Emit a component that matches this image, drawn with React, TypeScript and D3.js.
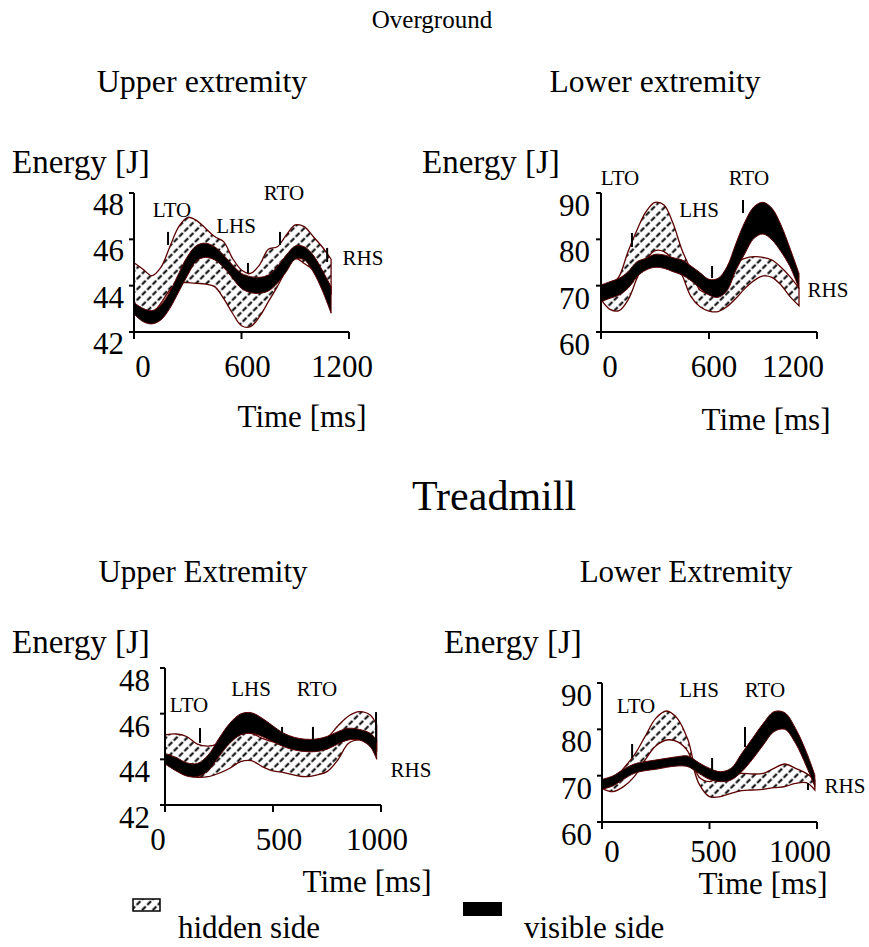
import React from 'react';
import * as d3 from 'd3';

const FONT = 'Liberation Serif, DejaVu Serif, serif';

// ---------- DATA ----------
// Overground, upper extremity
const TIME_OG = [0, 50, 100, 150, 200, 250, 300, 350, 400, 450, 500, 550, 600, 650, 700, 750, 800, 850, 900, 950, 1000, 1050, 1100];
const OG_UP_HID_HI = [44.99, 44.71, 44.43, 44.79, 45.68, 46.55, 46.95, 46.81, 46.47, 46.12, 45.9, 45.18, 44.68, 44.53, 44.89, 45.57, 45.68, 46.19, 46.62, 46.55, 46.12, 45.68, 45.14];
const OG_UP_HID_LO = [42.88, 42.66, 42.81, 43.24, 43.81, 44.1, 44.13, 44.1, 44.07, 43.96, 43.45, 42.81, 42.27, 42.23, 42.66, 43.31, 43.96, 44.68, 45.18, 44.96, 44.68, 44.24, 43.67];
const OG_UP_VIS_HI = [43.27, 43.02, 42.92, 43.17, 43.74, 44.53, 45.28, 45.74, 45.83, 45.68, 45.32, 44.89, 44.53, 44.39, 44.36, 44.46, 44.82, 45.32, 45.71, 45.68, 45.32, 44.68, 43.96];
const OG_UP_VIS_LO = [42.78, 42.45, 42.35, 42.52, 43.02, 43.74, 44.46, 45.08, 45.22, 45.11, 44.79, 44.32, 43.88, 43.7, 43.67, 43.77, 44.1, 44.6, 45.14, 45.11, 44.6, 43.81, 42.81];
// Overground, lower extremity
const OG_LO_HID_HI = [68.71, 69.78, 71.94, 77.34, 82.01, 85.97, 87.99, 87.41, 83.45, 77.7, 73.38, 69.06, 68.35, 68.35, 69.78, 74.82, 75.9, 76.26, 76.12, 75.54, 73.96, 71.94, 69.42];
const OG_LO_HID_LO = [67.05, 64.89, 64.6, 66.91, 71.58, 75.54, 77.55, 77.34, 75.54, 72.3, 67.63, 65.47, 64.53, 64.39, 65.47, 67.27, 69.42, 71.08, 72.09, 71.8, 70.14, 67.63, 65.68];
const OG_LO_VIS_HI = [70.14, 70.86, 71.58, 73.02, 75.18, 75.9, 76.76, 76.62, 76.04, 75.54, 74.24, 72.81, 71.37, 71.58, 74.1, 79.14, 83.81, 87.05, 87.99, 86.69, 83.09, 78.06, 72.66];
const OG_LO_VIS_LO = [66.55, 67.27, 67.99, 69.42, 71.94, 73.38, 73.96, 73.74, 73.02, 72.3, 71.08, 69.42, 67.99, 67.48, 68.92, 73.38, 76.98, 80.22, 81.15, 79.86, 77.34, 74.1, 69.42];
// Treadmill, upper extremity
const TIME_TM_UP = [0, 50, 100, 150, 200, 250, 300, 350, 400, 450, 500, 550, 600, 650, 700, 750, 800, 850, 900, 950, 980];
const TM_UP_HID_HI = [45.07, 45.11, 45.0, 44.67, 44.58, 44.7, 45.0, 45.21, 45.14, 44.92, 44.77, 44.7, 44.63, 44.67, 44.85, 44.96, 45.46, 45.9, 46.09, 45.94, 45.5];
const TM_UP_HID_LO = [43.9, 43.53, 43.31, 43.21, 43.24, 43.39, 43.61, 43.9, 43.94, 43.68, 43.49, 43.42, 43.31, 43.24, 43.31, 43.46, 43.97, 44.7, 44.85, 44.7, 44.41];
const TM_UP_VIS_HI = [44.26, 44.09, 43.85, 43.82, 44.19, 44.92, 45.58, 45.99, 46.04, 45.8, 45.46, 45.14, 44.96, 44.88, 44.89, 45.0, 45.21, 45.36, 45.31, 45.14, 44.85];
const TM_UP_VIS_LO = [43.8, 43.5, 43.27, 43.24, 43.5, 44.12, 44.7, 45.07, 45.14, 45.0, 44.77, 44.55, 44.41, 44.34, 44.34, 44.44, 44.67, 44.85, 44.85, 44.55, 44.0];
// Treadmill, lower extremity
const TIME_TM_LO = [0, 50, 100, 150, 200, 250, 300, 350, 400, 450, 500, 550, 600, 650, 700, 750, 800, 850, 900, 950, 990];
const TM_LO_HID_HI = [68.35, 69.06, 71.58, 74.46, 78.42, 82.37, 83.96, 82.37, 77.7, 69.78, 68.71, 69.78, 70.14, 70.5, 70.36, 70.5, 71.58, 72.52, 71.58, 70.5, 69.06];
const TM_LO_HID_LO = [67.27, 66.55, 67.63, 69.78, 73.38, 76.4, 77.7, 77.34, 75.18, 68.35, 65.47, 65.47, 66.19, 66.76, 66.91, 67.05, 67.41, 67.63, 68.35, 68.49, 66.91];
const TM_LO_VIS_HI = [69.21, 69.93, 71.37, 72.52, 73.02, 73.38, 73.74, 74.1, 74.24, 72.81, 71.58, 70.86, 71.58, 74.82, 78.06, 81.29, 83.81, 83.6, 80.22, 75.18, 70.14];
const TM_LO_VIS_LO = [67.05, 67.77, 69.21, 70.5, 71.08, 71.37, 71.8, 72.09, 71.94, 70.5, 69.21, 68.71, 69.06, 70.86, 73.53, 76.62, 79.5, 80.0, 76.98, 72.09, 67.63];

// Gait events
const EVENT_NAMES = ['LTO', 'LHS', 'RTO', 'RHS'];
const OG_UP_EVENT_T = [190, 636, 815, 1078];
const OG_UP_EVENT_HI = [46.32, 44.98, 46.32, 45.63];
const OG_UP_EVENT_LO = [45.76, 44.55, 45.76, 45.02];
const OG_LO_EVENT_T = [172, 617, 789, 1100];
const OG_LO_EVENT_HI = [81.37, 74.25, 88.49, null];
const OG_LO_EVENT_LO = [78.35, 71.66, 85.69, null];
const TM_UP_EVENT_T = [162, 542, 685, 977];
const TM_UP_EVENT_HI = [45.37, 45.42, 45.42, 46.07];
const TM_UP_EVENT_LO = [44.72, 44.85, 44.85, 44.72];
const TM_LO_EVENT_T = [140, 512, 665, 958];
const TM_LO_EVENT_HI = [76.84, 73.81, 80.5, 68.42];
const TM_LO_EVENT_LO = [73.81, 70.79, 76.19, 66.91];

// Axis ticks
const OG_X_TICKS = [0, 600, 1200];
const TM_X_TICKS = [0, 500, 1000];
const UP_Y_TICKS = [42, 44, 46, 48];
const LO_Y_TICKS = [60, 70, 80, 90];

// ---------- LAYOUT ----------
type Panel = {
  key: string;
  x0: number; x1: number; yTop: number; yBot: number;
  xDomain: [number, number]; yDomain: [number, number];
  xTicks: number[]; yTicks: number[];
  xLabelDx: number[]; yLabelRight: number; yLabelDy: number; xLabelDy: number;
  time: number[]; hidHi: number[]; hidLo: number[]; visHi: number[]; visLo: number[];
  evT: number[]; evHi: (number | null)[]; evLo: (number | null)[];
  evLabel: [number, number][];
};

const PANELS: Panel[] = [
  {
    key: 'ogU', x0: 134, x1: 349, yTop: 193, yBot: 332, xDomain: [0, 1200], yDomain: [42, 48],
    xTicks: OG_X_TICKS, yTicks: UP_Y_TICKS, xLabelDx: [9, 6, -7], yLabelRight: 124, yLabelDy: 22, xLabelDy: 45,
    time: TIME_OG, hidHi: OG_UP_HID_HI, hidLo: OG_UP_HID_LO, visHi: OG_UP_VIS_HI, visLo: OG_UP_VIS_LO,
    evT: OG_UP_EVENT_T, evHi: OG_UP_EVENT_HI, evLo: OG_UP_EVENT_LO,
    evLabel: [[172, 217], [236, 233], [284, 200], [363, 265]],
  },
  {
    key: 'ogL', x0: 601, x1: 817, yTop: 193, yBot: 332, xDomain: [0, 1200], yDomain: [60, 90],
    xTicks: OG_X_TICKS, yTicks: LO_Y_TICKS, xLabelDx: [9, 5, -24], yLabelRight: 590, yLabelDy: 23, xLabelDy: 45,
    time: TIME_OG, hidHi: OG_LO_HID_HI, hidLo: OG_LO_HID_LO, visHi: OG_LO_VIS_HI, visLo: OG_LO_VIS_LO,
    evT: OG_LO_EVENT_T, evHi: OG_LO_EVENT_HI, evLo: OG_LO_EVENT_LO,
    evLabel: [[620, 185], [699, 217], [749, 185], [828, 297]],
  },
  {
    key: 'tmU', x0: 165, x1: 381, yTop: 668, yBot: 805, xDomain: [0, 1000], yDomain: [42, 48],
    xTicks: TM_X_TICKS, yTicks: UP_Y_TICKS, xLabelDx: [-7, 6, -4], yLabelRight: 150, yLabelDy: 23, xLabelDy: 45,
    time: TIME_TM_UP, hidHi: TM_UP_HID_HI, hidLo: TM_UP_HID_LO, visHi: TM_UP_VIS_HI, visLo: TM_UP_VIS_LO,
    evT: TM_UP_EVENT_T, evHi: TM_UP_EVENT_HI, evLo: TM_UP_EVENT_LO,
    evLabel: [[189, 712], [251, 696], [317, 696], [411, 777]],
  },
  {
    key: 'tmL', x0: 602, x1: 817, yTop: 683, yBot: 822, xDomain: [0, 1000], yDomain: [60, 90],
    xTicks: TM_X_TICKS, yTicks: LO_Y_TICKS, xLabelDx: [10, 4, -17], yLabelRight: 592, yLabelDy: 23, xLabelDy: 40,
    time: TIME_TM_LO, hidHi: TM_LO_HID_HI, hidLo: TM_LO_HID_LO, visHi: TM_LO_VIS_HI, visLo: TM_LO_VIS_LO,
    evT: TM_LO_EVENT_T, evHi: TM_LO_EVENT_HI, evLo: TM_LO_EVENT_LO,
    evLabel: [[636, 713], [699, 697], [765, 697], [845, 793]],
  },
];

const OUTLINE = '#5c0000';

function PanelView({ p }: { p: Panel }) {
  const x = d3.scaleLinear().domain(p.xDomain).range([p.x0, p.x1]);
  const y = d3.scaleLinear().domain(p.yDomain).range([p.yBot, p.yTop]);
  const idx = p.time.map((_, i) => i);
  const curve = d3.curveCatmullRom.alpha(0.5);
  const hidArea = d3.area<number>()
    .x((i) => x(p.time[i]))
    .y0((i) => y(p.hidLo[i]))
    .y1((i) => y(p.hidHi[i]))
    .curve(curve);
  const visArea = d3.area<number>()
    .x((i) => x(p.time[i]))
    .y0((i) => y(p.visLo[i]))
    .y1((i) => y(p.visHi[i]))
    .curve(curve);
  const x0 = x(p.xDomain[0]);
  const y0 = y(p.yDomain[0]);
  return (
    <g>
      <path d={hidArea(idx) || ''} fill="url(#hatch)" stroke={OUTLINE} strokeWidth={1.3} />
      <path d={visArea(idx) || ''} fill="#000" stroke={OUTLINE} strokeWidth={1} />
      {p.evT.map((t, i) =>
        p.evHi[i] == null ? null : (
          <line key={'ev' + i} x1={x(t)} x2={x(t)} y1={y(p.evHi[i] as number)} y2={y(p.evLo[i] as number)} stroke="#000" strokeWidth={2} />
        )
      )}
      {EVENT_NAMES.map((n, i) => (
        <text key={'el' + i} x={p.evLabel[i][0]} y={p.evLabel[i][1]} fontSize={21} textAnchor="middle" style={{ fontFamily: FONT }}>{n}</text>
      ))}
      <line x1={x0} x2={x0} y1={y(p.yDomain[1])} y2={y0} stroke="#000" strokeWidth={2} />
      <line x1={x0 - 1} x2={x(p.xDomain[1])} y1={y0} y2={y0} stroke="#000" strokeWidth={2} />
      {p.yTicks.map((v) => (
        <line key={'yt' + v} x1={x0 - 5} x2={x0} y1={y(v)} y2={y(v)} stroke="#000" strokeWidth={2} />
      ))}
      {p.xTicks.map((v) => (
        <line key={'xt' + v} x1={x(v)} x2={x(v)} y1={y0} y2={y0 + 7} stroke="#000" strokeWidth={2} />
      ))}
      {p.yTicks.map((v) => (
        <text key={'yl' + v} x={p.yLabelRight} y={y(v) + p.yLabelDy} fontSize={31} textAnchor="end" style={{ fontFamily: FONT }}>{v}</text>
      ))}
      {p.xTicks.map((v, i) => (
        <text key={'xl' + v} x={x(v) + p.xLabelDx[i]} y={y0 + p.xLabelDy} fontSize={31} textAnchor="middle" style={{ fontFamily: FONT }}>{v}</text>
      ))}
    </g>
  );
}

const TXT = (props: any) => <text {...props} style={{ fontFamily: FONT }} />;

export default function App() {
  return (
    <svg width={869} height={947} style={{ position: 'absolute', left: 0, top: 0, background: '#fff' }}>
      <defs>
        <pattern id="hatch" patternUnits="userSpaceOnUse" width={7.5} height={7.5} patternTransform="rotate(45)">
          <rect width={7.5} height={7.5} fill="#fff" />
          <line x1={1.5} y1={0} x2={1.5} y2={7.5} stroke="#000" strokeWidth={2} strokeDasharray="3.2 2.2" />
        </pattern>
      </defs>
      <rect width={869} height={947} fill="#fff" />
      <TXT x={432} y={28} fontSize={25} textAnchor="middle">Overground</TXT>
      <TXT x={202} y={92} fontSize={32} textAnchor="middle">Upper extremity</TXT>
      <TXT x={655} y={92} fontSize={31.5} textAnchor="middle">Lower extremity</TXT>
      <TXT x={12} y={173} fontSize={33}>Energy [J]</TXT>
      <TXT x={422} y={173} fontSize={33}>Energy [J]</TXT>
      <TXT x={302} y={427} fontSize={31} textAnchor="middle">Time [ms]</TXT>
      <TXT x={766} y={430} fontSize={31} textAnchor="middle">Time [ms]</TXT>
      <TXT x={494} y={510} fontSize={42} textAnchor="middle">Treadmill</TXT>
      <TXT x={203} y={582} fontSize={31} textAnchor="middle">Upper Extremity</TXT>
      <TXT x={686} y={582} fontSize={31} textAnchor="middle">Lower Extremity</TXT>
      <TXT x={12} y={653} fontSize={33}>Energy [J]</TXT>
      <TXT x={444} y={653} fontSize={33}>Energy [J]</TXT>
      <TXT x={367} y={892} fontSize={31} textAnchor="middle">Time [ms]</TXT>
      <TXT x={763} y={894} fontSize={31} textAnchor="middle">Time [ms]</TXT>
      {PANELS.map((p) => <PanelView key={p.key} p={p} />)}
      <rect x={133} y={899} width={27} height={12} fill="url(#hatch)" stroke="#000" strokeWidth={1.5} />
      <TXT x={178} y={938} fontSize={31}>hidden side</TXT>
      <rect x={463} y={902} width={39} height={14} fill="#000" />
      <TXT x={524} y={938} fontSize={31}>visible side</TXT>
    </svg>
  );
}
